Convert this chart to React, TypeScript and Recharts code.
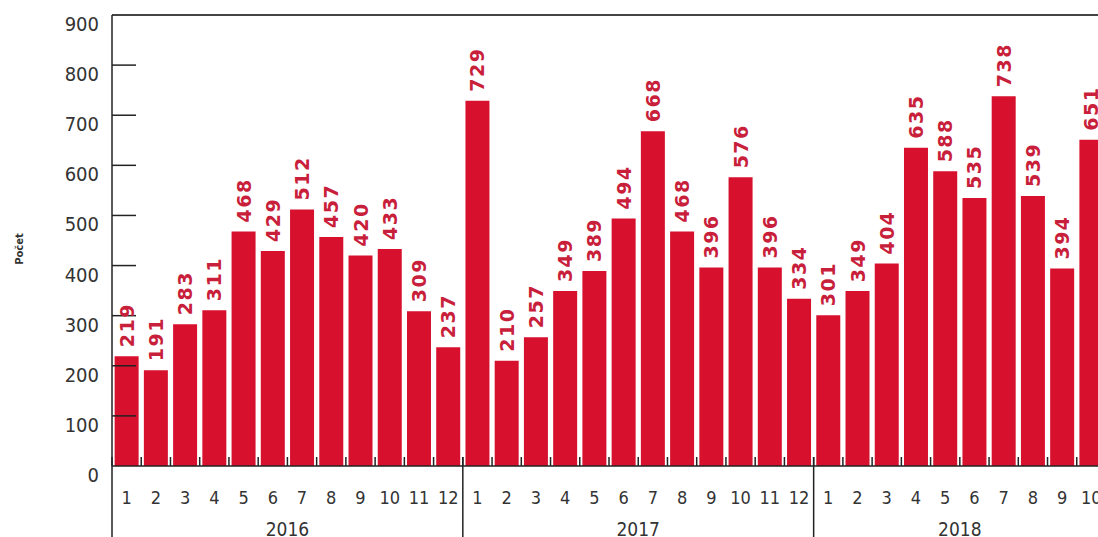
import { BarChart, Bar, XAxis, YAxis, LabelList, ReferenceLine } from "recharts"

const years = [2016, 2017, 2018]
const months = [1, 2, 3, 4, 5, 6, 7, 8, 9, 10, 11, 12]
const counts2016 = [219, 191, 283, 311, 468, 429, 512, 457, 420, 433, 309, 237]
const counts2017 = [729, 210, 257, 349, 389, 494, 668, 468, 396, 576, 396, 334]
const counts2018 = [301, 349, 404, 635, 588, 535, 738, 539, 394, 651]
const yTicks = [0, 100, 200, 300, 400, 500, 600, 700, 800, 900]

const countsByYear = [counts2016, counts2017, counts2018]

const data = years.flatMap((yr, yi) =>
  countsByYear[yi].map((v, i) => ({
    key: `${yr}-${months[i]}`,
    year: yr,
    month: months[i],
    pos: i,
    groupSize: countsByYear[yi].length,
    value: v,
  }))
)

const W = 1106
const H = 537
const LEFT = 112
const TOP = 15
const BASE = 466
const band = (W - LEFT) / data.length

const BAR = "#d7102e"
const LABEL = "#c8203a"
const AXIS = "#222"
const FONT = "'DejaVu Sans Condensed', 'DejaVu Sans', sans-serif"

const XTick = ({ x, payload, index }: any) => {
  const d = data[payload?.index ?? index]
  if (!d) return null
  const half = band / 2
  const left = x - half
  const right = x + half
  return (
    <g>
      <line x1={right} x2={right} y1={BASE - 9} y2={BASE} stroke={AXIS} strokeWidth={1.5} />
      {d.month === 1 && <line x1={left} x2={left} y1={BASE - 9} y2={H} stroke={AXIS} strokeWidth={1.5} />}
      <text x={x} y={BASE + 38} textAnchor="middle" fontSize={18} fill="#333" fontFamily={FONT}>
        {d.month}
      </text>
      {d.pos === Math.floor(d.groupSize / 2) && (
        <text x={left} y={H - 1} textAnchor="middle" fontSize={19} fill="#333" fontFamily={FONT}>
          {d.year}
        </text>
      )}
    </g>
  )
}

const YTick = ({ y, payload }: any) => {
  const v = payload.value
  return (
    <g>
      {v !== 0 && v !== 900 && <line x1={LEFT} x2={LEFT + 24} y1={y} y2={y} stroke={AXIS} strokeWidth={1.5} />}
      <text x={99} y={y + 16} textAnchor="end" fontSize={20} fill="#333" fontFamily={FONT}>
        {v}
      </text>
    </g>
  )
}

const BarLabel = (props: any) => {
  const x = Number(props.x) + Number(props.width) / 2
  const y = Number(props.y) - 9
  return (
    <text
      x={x}
      y={y}
      transform={`rotate(-90, ${x}, ${y})`}
      textAnchor="start"
      dominantBaseline="central"
      fontSize={19}
      fontWeight="bold"
      letterSpacing={1.5}
      fill={LABEL}
      fontFamily="'DejaVu Sans', sans-serif"
    >
      {props.value}
    </text>
  )
}

export default function App() {
  return (
    <div style={{ position: "fixed", left: 0, top: 0, width: 1098, height: 537, overflow: "hidden", background: "#fff" }}>
      <svg width={40} height={537} style={{ position: "absolute", left: 0, top: 0 }}>
        <text
          x={19}
          y={249}
          transform="rotate(-90, 19, 249)"
          textAnchor="middle"
          dominantBaseline="central"
          fontSize={10}
          fontWeight="bold"
          fill="#333"
          fontFamily="'DejaVu Sans', sans-serif"
        >
          Počet
        </text>
      </svg>
      <BarChart
        width={W}
        height={H}
        data={data}
        margin={{ top: TOP, right: 0, left: 0, bottom: 0 }}
        barCategoryGap="9%"
        style={{ position: "absolute", left: 0, top: 0 }}
      >
        <YAxis
          type="number"
          domain={[0, 900]}
          ticks={yTicks}
          width={LEFT}
          tickLine={false}
          axisLine={{ stroke: AXIS, strokeWidth: 1.5 }}
          tick={(p: any) => <YTick {...p} />}
          interval={0}
        />
        <Bar dataKey="value" fill={BAR} isAnimationActive={false}>
          <LabelList dataKey="value" content={BarLabel} />
        </Bar>
        <ReferenceLine y={900} stroke="#444" strokeWidth={2} />
        <XAxis
          dataKey="key"
          interval={0}
          height={H - BASE}
          tickLine={false}
          axisLine={{ stroke: AXIS, strokeWidth: 1.5 }}
          tick={(p: any) => <XTick {...p} />}
        />
      </BarChart>
    </div>
  )
}
